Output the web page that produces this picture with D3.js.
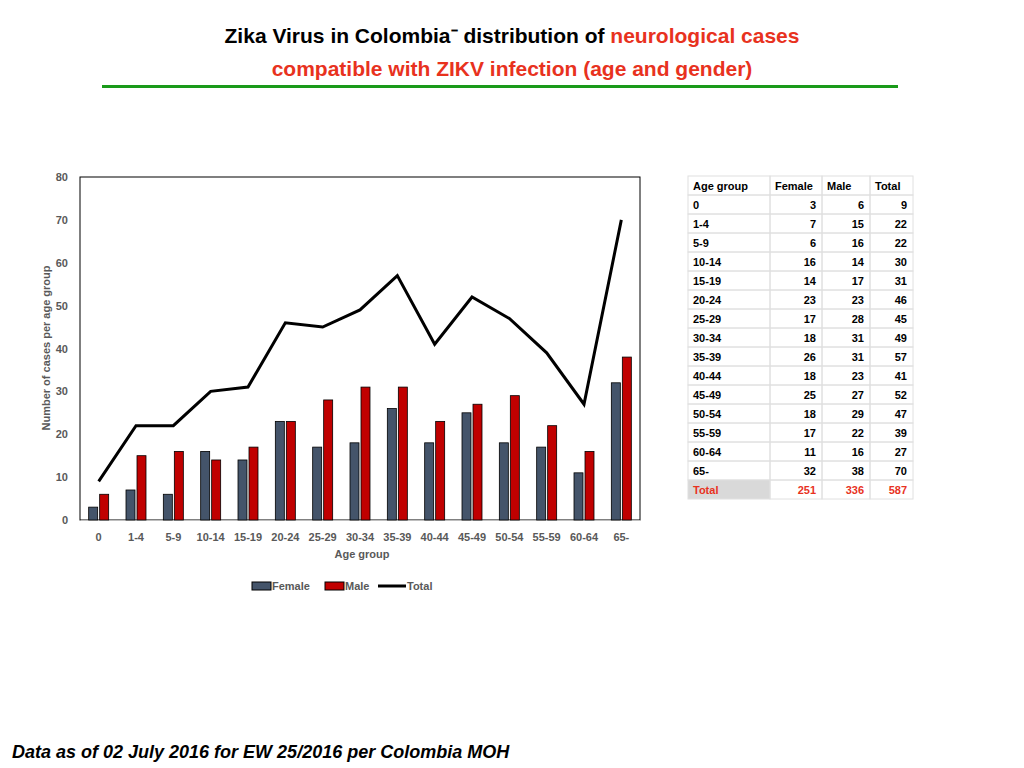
<!DOCTYPE html>
<html><head><meta charset="utf-8">
<script src="https://cdn.jsdelivr.net/npm/d3@7"></script>
<style>
body{margin:0;background:#fff;font-family:"Liberation Sans",Arial,sans-serif;}
</style></head>
<body><svg id="c" width="1024" height="768"></svg>
<script>
/* data */
const ageGroups = ["0","1-4","5-9","10-14","15-19","20-24","25-29","30-34","35-39","40-44","45-49","50-54","55-59","60-64","65-"];
const female = [3,7,6,16,14,23,17,18,26,18,25,18,17,11,32];
const male   = [6,15,16,14,17,23,28,31,31,23,27,29,22,16,38];
const total  = [9,22,22,30,31,46,45,49,57,41,52,47,39,27,70];
const yTicks = [0,10,20,30,40,50,60,70,80];
const totals = [251,336,587];

const svg = d3.select("#c");
const RED = "#e8321e";

/* title */
const t1 = svg.append("text").attr("x",512).attr("y",43).attr("text-anchor","middle")
  .attr("font-size",21).attr("font-weight","bold");
t1.append("tspan").text("Zika Virus in Colombia\u207B  distribution of ");
t1.append("tspan").attr("fill",RED).text("neurological cases");
svg.append("text").attr("x",512).attr("y",76).attr("text-anchor","middle")
  .attr("font-size",21).attr("font-weight","bold").attr("fill",RED)
  .text("compatible with ZIKV infection (age and gender)");
svg.append("rect").attr("x",102).attr("y",85).attr("width",796).attr("height",3).attr("fill","#1a9a1a");

/* chart */
const x = d3.scaleBand().domain(ageGroups).range([80,640]);
const y = d3.scaleLinear().domain([0,80]).range([520,177]);
const bw = 9;

svg.append("rect").attr("x",80).attr("y",177).attr("width",560).attr("height",343)
  .attr("fill","none").attr("stroke","#000").attr("stroke-width",1);

const ax = svg.append("g").attr("transform","translate(80,0)")
  .call(d3.axisLeft(y).tickValues(yTicks).tickSize(0).tickPadding(12));
ax.select(".domain").remove();
ax.selectAll("text").attr("font-size",11).attr("font-weight","bold").attr("fill","#595959")
  .attr("font-family","Liberation Sans, Arial, sans-serif");

const bx = svg.append("g").attr("transform","translate(0,520)")
  .call(d3.axisBottom(x).tickSize(0).tickPadding(13));
bx.select(".domain").attr("stroke","#bfbfbf");
bx.selectAll("text").attr("font-size",11).attr("font-weight","bold").attr("fill","#595959")
  .attr("font-family","Liberation Sans, Arial, sans-serif");

svg.selectAll("rect.f").data(female).join("rect").attr("class","f")
  .attr("x",(d,i)=>x(ageGroups[i])+x.bandwidth()/2-bw-1).attr("width",bw)
  .attr("y",d=>y(d)).attr("height",d=>y(0)-y(d))
  .attr("fill","#44546a").attr("stroke","#000").attr("stroke-width",0.8);
svg.selectAll("rect.m").data(male).join("rect").attr("class","m")
  .attr("x",(d,i)=>x(ageGroups[i])+x.bandwidth()/2+1).attr("width",bw)
  .attr("y",d=>y(d)).attr("height",d=>y(0)-y(d))
  .attr("fill","#c00000").attr("stroke","#000").attr("stroke-width",0.8);

svg.append("path").datum(total)
  .attr("d",d3.line().x((d,i)=>x(ageGroups[i])+x.bandwidth()/2).y(d=>y(d)))
  .attr("fill","none").attr("stroke","#000").attr("stroke-width",3);

svg.append("text").attr("transform","translate(50,348) rotate(-90)").attr("text-anchor","middle")
  .attr("font-size",11).attr("font-weight","bold").attr("fill","#595959")
  .text("Number  of cases per age group");
svg.append("text").attr("x",362).attr("y",558).attr("text-anchor","middle")
  .attr("font-size",11).attr("font-weight","bold").attr("fill","#595959").text("Age group");

/* legend */
const lg = svg.append("g").attr("font-size",11).attr("font-weight","bold").attr("fill","#595959");
lg.append("rect").attr("x",252).attr("y",582).attr("width",19).attr("height",8).attr("fill","#44546a").attr("stroke","#000");
lg.append("text").attr("x",272).attr("y",590).text("Female");
lg.append("rect").attr("x",325).attr("y",582).attr("width",19).attr("height",8).attr("fill","#c00000").attr("stroke","#000");
lg.append("text").attr("x",345).attr("y",590).text("Male");
lg.append("line").attr("x1",378).attr("x2",406).attr("y1",586).attr("y2",586).attr("stroke","#000").attr("stroke-width",3);
lg.append("text").attr("x",407).attr("y",590).text("Total");

/* table */
const cols = [688,770,822,870,913];
const rowH = 19, tableTop = 176;
const tb = svg.append("g").attr("font-size",11).attr("font-weight","bold");
const rows = [["Age group","Female","Male","Total"]]
  .concat(ageGroups.map((g,i)=>[g,female[i],male[i],total[i]]))
  .concat([["Total"].concat(totals)]);
rows.forEach((r,ri)=>{
  const yy = tableTop + ri*rowH;
  const last = ri===rows.length-1;
  if (last) tb.append("rect").attr("x",cols[0]).attr("y",yy).attr("width",cols[1]-cols[0]).attr("height",rowH).attr("fill","#d9d9d9");
  r.forEach((v,ci)=>{
    tb.append("rect").attr("x",cols[ci]).attr("y",yy).attr("width",cols[ci+1]-cols[ci]).attr("height",rowH)
      .attr("fill","none").attr("stroke","#e0e0e0");
    const left = ci===0 || ri===0;
    const tx = left ? cols[ci]+5 : cols[ci+1]-6;
    tb.append("text").attr("x",tx).attr("y",yy+13.5).attr("text-anchor",left?"start":"end")
      .attr("fill",last?RED:"#000").text(v);
  });
});

/* footer */
svg.append("text").attr("x",12).attr("y",758).attr("font-size",18).attr("font-weight","bold")
  .attr("font-style","italic").text("Data as of 02 July 2016 for EW 25/2016 per Colombia MOH");
</script></body></html>
